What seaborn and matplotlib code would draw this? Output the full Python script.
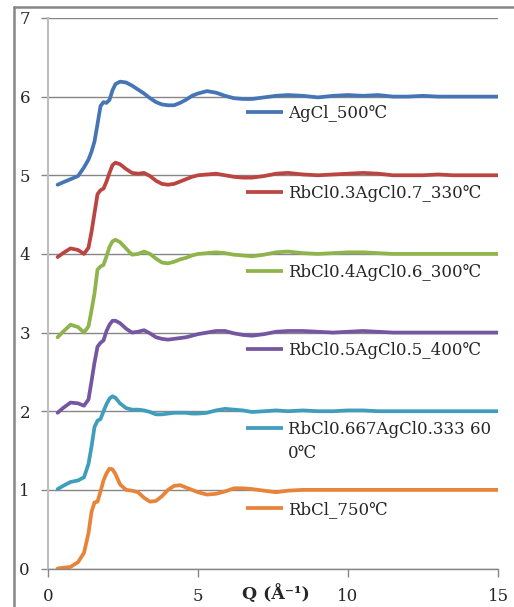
import pandas as pd
import seaborn as sns
import matplotlib.pyplot as plt
from matplotlib.lines import Line2D

# ---------------------------------------------------------------
# data, curves already offset
# ---------------------------------------------------------------
q = [0.32, 0.5, 0.75, 1.0, 1.2, 1.35, 1.45, 1.55, 1.65, 1.75, 1.85, 1.95,
     2.05, 2.15, 2.25, 2.4, 2.6, 2.8, 3.0, 3.2, 3.4, 3.6, 3.8, 4.0, 4.2,
     4.4, 4.6, 4.8, 5.0, 5.3, 5.6, 5.9, 6.2, 6.5, 6.8, 7.2, 7.6, 8.0, 8.5,
     9.0, 9.5, 10.0, 10.5, 11.0, 11.5, 12.0, 12.5, 13.0, 13.5, 14.0, 14.5,
     15.0]

agcl_500 = [4.88, 4.91, 4.95, 4.99, 5.10, 5.20, 5.30, 5.43, 5.65, 5.88, 5.93, 5.92,
            5.96, 6.08, 6.16, 6.19, 6.18, 6.14, 6.09, 6.04, 5.98, 5.93, 5.90, 5.89, 5.89,
            5.92, 5.96, 6.01, 6.04, 6.07, 6.05, 6.01, 5.98, 5.97, 5.97, 5.99, 6.01, 6.02, 6.01,
            5.99, 6.01, 6.02, 6.01, 6.02, 6.00, 6.00, 6.01, 6.00, 6.00, 6.00, 6.00,
            6.00]

rb03_330 = [3.96, 4.01, 4.07, 4.05, 4.00, 4.08, 4.28, 4.52, 4.76, 4.81, 4.83, 4.92,
            5.03, 5.13, 5.16, 5.14, 5.08, 5.03, 5.02, 5.03, 4.99, 4.93, 4.89, 4.88, 4.89,
            4.92, 4.95, 4.98, 5.00, 5.01, 5.02, 5.00, 4.98, 4.97, 4.97, 4.99, 5.02, 5.03, 5.01,
            5.00, 5.01, 5.02, 5.03, 5.02, 5.00, 5.00, 5.00, 5.01, 5.00, 5.00, 5.00,
            5.00]

rb04_300 = [2.94, 3.01, 3.10, 3.07, 3.00, 3.08, 3.28, 3.50, 3.80, 3.84, 3.86, 3.97,
            4.09, 4.16, 4.18, 4.15, 4.07, 3.99, 4.00, 4.03, 4.00, 3.94, 3.89, 3.88, 3.90,
            3.93, 3.95, 3.98, 4.00, 4.01, 4.02, 4.01, 3.99, 3.98, 3.97, 3.99, 4.02, 4.03, 4.01,
            4.00, 4.01, 4.02, 4.02, 4.01, 4.00, 4.00, 4.00, 4.00, 4.00, 4.00, 4.00,
            4.00]

rb05_400 = [1.98, 2.04, 2.11, 2.10, 2.07, 2.15, 2.38, 2.62, 2.82, 2.87, 2.90, 3.02,
            3.10, 3.15, 3.15, 3.12, 3.05, 3.00, 3.01, 3.03, 2.99, 2.94, 2.92, 2.91, 2.92,
            2.93, 2.94, 2.96, 2.98, 3.00, 3.02, 3.02, 2.99, 2.97, 2.96, 2.98, 3.01, 3.02, 3.02,
            3.01, 3.00, 3.01, 3.02, 3.01, 3.00, 3.00, 3.00, 3.00, 3.00, 3.00, 3.00,
            3.00]

rb0667_600 = [1.01, 1.05, 1.10, 1.12, 1.16, 1.33, 1.55, 1.80, 1.88, 1.90, 2.00, 2.09,
              2.16, 2.19, 2.17, 2.10, 2.04, 2.02, 2.02, 2.01, 1.99, 1.96, 1.96, 1.97, 1.98,
              1.98, 1.98, 1.97, 1.97, 1.98, 2.01, 2.03, 2.02, 2.01, 1.99, 2.00, 2.01, 2.00, 2.01,
              2.00, 2.00, 2.01, 2.01, 2.00, 2.00, 2.00, 2.00, 2.00, 2.00, 2.00, 2.00,
              2.00]

rbcl_750 = [0.00, 0.01, 0.02, 0.08, 0.20, 0.45, 0.72, 0.84, 0.85, 0.98, 1.12, 1.21,
            1.27, 1.26, 1.20, 1.07, 1.00, 0.99, 0.97, 0.90, 0.85, 0.86, 0.92, 1.00, 1.05,
            1.06, 1.03, 1.00, 0.97, 0.94, 0.95, 0.98, 1.02, 1.02, 1.01, 0.99, 0.97, 0.99, 1.00,
            1.00, 1.00, 1.00, 1.00, 1.00, 1.00, 1.00, 1.00, 1.00, 1.00, 1.00, 1.00,
            1.00]

labels = ["AgCl_500℃", "RbCl0.3AgCl0.7_330℃", "RbCl0.4AgCl0.6_300℃",
          "RbCl0.5AgCl0.5_400℃", "RbCl0.667AgCl0.333 60", "RbCl_750℃"]
series = [agcl_500, rb03_330, rb04_300, rb05_400, rb0667_600, rbcl_750]
colors = ["#4575B4", "#BA4541", "#8FB44C", "#7556A0", "#3F9EBB", "#E8843A"]

# long table for seaborn
rows = []
for lab, vals in zip(labels, series):
    for qq, v in zip(q, vals):
        rows.append({"Q": qq, "S": v, "sample": lab})
df = pd.DataFrame(rows)

# ---------------------------------------------------------------
# plot
# ---------------------------------------------------------------
sns.set_style("white")
plt.rcParams["font.family"] = ["DejaVu Serif", "DejaVu Sans"]

fig = plt.figure(figsize=(5.14, 6.07), dpi=100)
ax = fig.add_axes([0.0934, 0.0634, 0.8755, 0.907])

sns.lineplot(data=df, x="Q", y="S", hue="sample", hue_order=labels,
             palette=dict(zip(labels, colors)), sort=False, estimator=None,
             linewidth=2.7, legend=False, ax=ax)

ax.set_xlim(0, 15)
ax.set_ylim(0, 7)
ax.set_xticks([0, 5, 10, 15])
ax.set_yticks(range(8))
ax.yaxis.grid(True, color="#868686", linewidth=1)
ax.set_axisbelow(True)
ax.set_xlabel("")
ax.set_ylabel("")

for s in ["top", "right"]:
    ax.spines[s].set_visible(False)
ax.spines["left"].set_color("#BEBEBE")
ax.spines["left"].set_linewidth(1.5)
ax.spines["bottom"].set_color("#868686")
ax.spines["bottom"].set_linewidth(1)

ax.tick_params(axis="y", direction="out", length=5, color="#868686",
               width=1, left=True, pad=8, labelsize=12)
ax.tick_params(axis="x", direction="out", length=6, color="#868686",
               width=1, bottom=True, pad=8, labelsize=12)

# x label sits between tick labels like in the original
ax.text(0.431, -0.046, "Q (Å⁻¹)", transform=ax.transAxes, fontsize=12.5,
        fontweight="bold", ha="left", va="center")

# legend entries placed next to each curve
leg_y = [5.805, 4.79, 3.78, 2.79, 1.79, 0.77]
for lab, col, yy in zip(labels, colors, leg_y):
    ax.plot([6.6, 7.83], [yy, yy], color=col, linewidth=2.7,
            solid_capstyle="butt")
    ax.text(8.0, yy - 0.075, lab, fontsize=12, ha="left", va="baseline")
ax.text(8.0, leg_y[4] - 0.39, "0℃", fontsize=12, ha="left", va="baseline")

# chart area frame (top + left visible)
fig.add_artist(Line2D([0.0272, 0.0272], [0.0, 0.9885], color="#868686",
                      linewidth=1.8, transform=fig.transFigure))
fig.add_artist(Line2D([0.0272, 1.0], [0.9885, 0.9885], color="#868686",
                      linewidth=1.8, transform=fig.transFigure))

fig.savefig("out.png", dpi=100)
